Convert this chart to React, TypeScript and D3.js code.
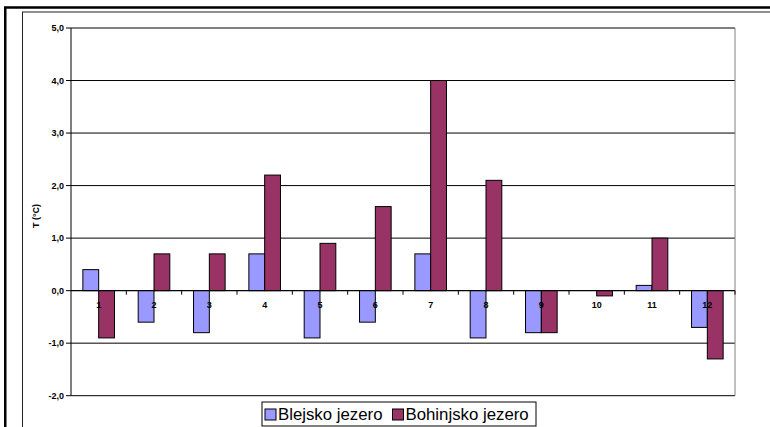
import React from "react";
import * as d3 from "d3";

const categories = ["1", "2", "3", "4", "5", "6", "7", "8", "9", "10", "11", "12"];
const seriesNames = ["Blejsko jezero", "Bohinjsko jezero"];
const blejsko = [0.4, -0.6, -0.8, 0.7, -0.9, -0.6, 0.7, -0.9, -0.8, 0, 0.1, -0.7];
const bohinjsko = [-0.9, 0.7, 0.7, 2.2, 0.9, 1.6, 4.0, 2.1, -0.8, -0.1, 1.0, -1.3];
const yTicks = [-2, -1, 0, 1, 2, 3, 4, 5];
const colors = ["#9999FF", "#993366"];

const W = 770, H = 427;
const plotL = 71, plotR = 735, plotT = 28, plotB = 395.7;

export default function App() {
  const y = d3.scaleLinear().domain([-2, 5]).range([plotB, plotT]);
  const x = d3.scaleBand().domain(categories).range([plotL, plotR]).paddingInner(0).paddingOuter(0);
  const bw = x.bandwidth() / 3.5;
  const fmt = (v: number) => v.toFixed(1).replace(".", ",");
  const series = [blejsko, bohinjsko];
  const font = "Arial, 'Liberation Sans', sans-serif";
  return (
    <div style={{ position: "fixed", left: 0, top: 0 }}>
      <svg width={W} height={H} style={{ display: "block", background: "#fff" }} fontFamily={font}>
        <rect x={5.25} y={7.5} width={800} height={500} fill="none" stroke="#000" strokeWidth={2.5} />
        <rect x={22.5} y={12} width={800} height={500} fill="none" stroke="#222" strokeWidth={1} />
        {yTicks.map((t) => (
          <line key={"g" + t} x1={plotL} x2={plotR} y1={y(t)} y2={y(t)} stroke="#000" strokeWidth={1} />
        ))}
        <line x1={plotR} x2={plotR} y1={plotT} y2={plotB} stroke="#808080" strokeWidth={1} />
        {series.map((s, si) =>
          s.map((v, i) => {
            if (v === 0) return null;
            const cx = (x(categories[i]) as number) + x.bandwidth() / 2;
            const bx = cx - bw + si * bw;
            const y0 = y(Math.max(0, v));
            const y1 = y(Math.min(0, v));
            return (
              <rect key={si + "-" + i} x={bx} y={y0} width={bw} height={y1 - y0} fill={colors[si]} stroke="#000" strokeWidth={1} />
            );
          })
        )}
        <line x1={plotL} x2={plotL} y1={plotT} y2={plotB} stroke="#000" strokeWidth={1} />
        {yTicks.map((t) => (
          <g key={"t" + t}>
            <line x1={plotL - 5} x2={plotL} y1={y(t)} y2={y(t)} stroke="#000" />
            <text x={plotL - 7} y={y(t)} dy="0.35em" textAnchor="end" fontSize={9} fontWeight="bold">{fmt(t)}</text>
          </g>
        ))}
        <line x1={plotL} x2={plotR} y1={y(0)} y2={y(0)} stroke="#000" strokeWidth={1} />
        {categories.map((c) => (
          <g key={"c" + c}>
            <line x1={(x(c) as number) + x.bandwidth()} x2={(x(c) as number) + x.bandwidth()} y1={y(0)} y2={y(0) + 4} stroke="#000" />
            <text x={(x(c) as number) + x.bandwidth() / 2} y={y(0) + 17} textAnchor="middle" fontSize={9} fontWeight="bold">{c}</text>
          </g>
        ))}
        <text transform={`translate(39,${216}) rotate(-90)`} textAnchor="middle" fontSize={9} fontWeight="bold">T (°C)</text>
        <rect x={262} y={402} width={274} height={24} fill="#fff" stroke="#000" strokeWidth={1} />
        {seriesNames.map((n, i) => {
          const lx = i === 0 ? 265 : 392.5;
          return (
            <g key={n}>
              <rect x={lx} y={409} width={11} height={11} fill={colors[i]} stroke="#000" strokeWidth={1} />
              <text x={lx + 13} y={420} fontSize={16.8}>{n}</text>
            </g>
          );
        })}
      </svg>
    </div>
  );
}
